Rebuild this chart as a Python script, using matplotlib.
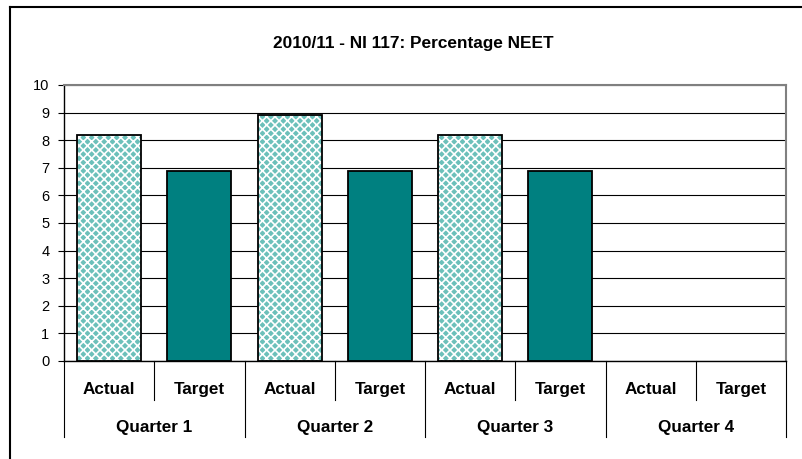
import matplotlib.pyplot as plt
from matplotlib.lines import Line2D
from matplotlib.transforms import blended_transform_factory

plt.rcParams['font.family'] = ['Liberation Sans', 'DejaVu Sans']
plt.rcParams['hatch.linewidth'] = 1.2

title = '2010/11 - NI 117: Percentage NEET'
quarters = ['Quarter 1', 'Quarter 2', 'Quarter 3', 'Quarter 4']
series = ['Actual', 'Target']
actual = [8.2, 8.9, 8.2, None]
target = [6.9, 6.9, 6.9, None]
yticks = list(range(0, 11))

W, H = 802, 459
fig = plt.figure(figsize=(W / 100, H / 100), dpi=100)
ax = fig.add_axes([64 / W, 1 - 361 / H, (786 - 64) / W, (361 - 85) / H])

bw = 0.71
for q in range(len(quarters)):
    xa = 2 * q + 0.5
    xt = 2 * q + 1.5
    if actual[q] is not None:
        ax.bar(xa, actual[q], bw, color='#6cc0ba', hatch='xxxx',
               edgecolor='white', linewidth=0, zorder=3)
        ax.bar(xa, actual[q], bw, fill=False, edgecolor='black',
               linewidth=1.3, zorder=4)
    if target[q] is not None:
        ax.bar(xt, target[q], bw, color='#008080', edgecolor='black',
               linewidth=1.3, zorder=3)

ax.set_xlim(0, 2 * len(quarters))
ax.set_ylim(0, 10)
ax.set_yticks(yticks)
ax.set_yticklabels([str(v) for v in yticks], fontsize=10.5)
ax.tick_params(axis='y', direction='out', length=4.5, width=0.8, pad=6)
ax.set_xticks([])
ax.yaxis.grid(True, color='black', linewidth=0.8, zorder=0)
ax.set_axisbelow(True)
for s in ['top', 'right']:
    ax.spines[s].set_color('#808080')
    ax.spines[s].set_linewidth(1.5)
for s in ['left', 'bottom']:
    ax.spines[s].set_color('black')
    ax.spines[s].set_linewidth(1.0)

# multi-level category axis
tr = blended_transform_factory(ax.transData, fig.transFigure)
y0 = 1 - 361 / H
y_in = 1 - 400 / H
y_out = 1 - 437 / H
for i in range(2 * len(quarters) + 1):
    yb = y_out if i % 2 == 0 else y_in
    fig.add_artist(Line2D([i, i], [y0, yb], color='black', linewidth=0.8,
                          transform=tr))
for q in range(len(quarters)):
    for k, name in enumerate(series):
        fig.text(2 * q + k + 0.5, 1 - 388 / H, name, transform=tr,
                 ha='center', va='center_baseline', fontsize=12.3,
                 fontweight='bold')
    fig.text(2 * q + 1, 1 - 426 / H, quarters[q], transform=tr,
             ha='center', va='center_baseline', fontsize=12.3,
             fontweight='bold')

fig.text(413 / W, 1 - 42 / H, title, ha='center', va='center_baseline',
         fontsize=12.4, fontweight='bold')

# chart border (cut off on right and bottom)
fig.add_artist(Line2D([10 / W, 10 / W], [1 - 7 / H, 0], color='black', linewidth=1.5))
fig.add_artist(Line2D([10 / W, 1], [1 - 7 / H, 1 - 7 / H], color='black', linewidth=1.5))

fig.savefig('out.png', dpi=100)
